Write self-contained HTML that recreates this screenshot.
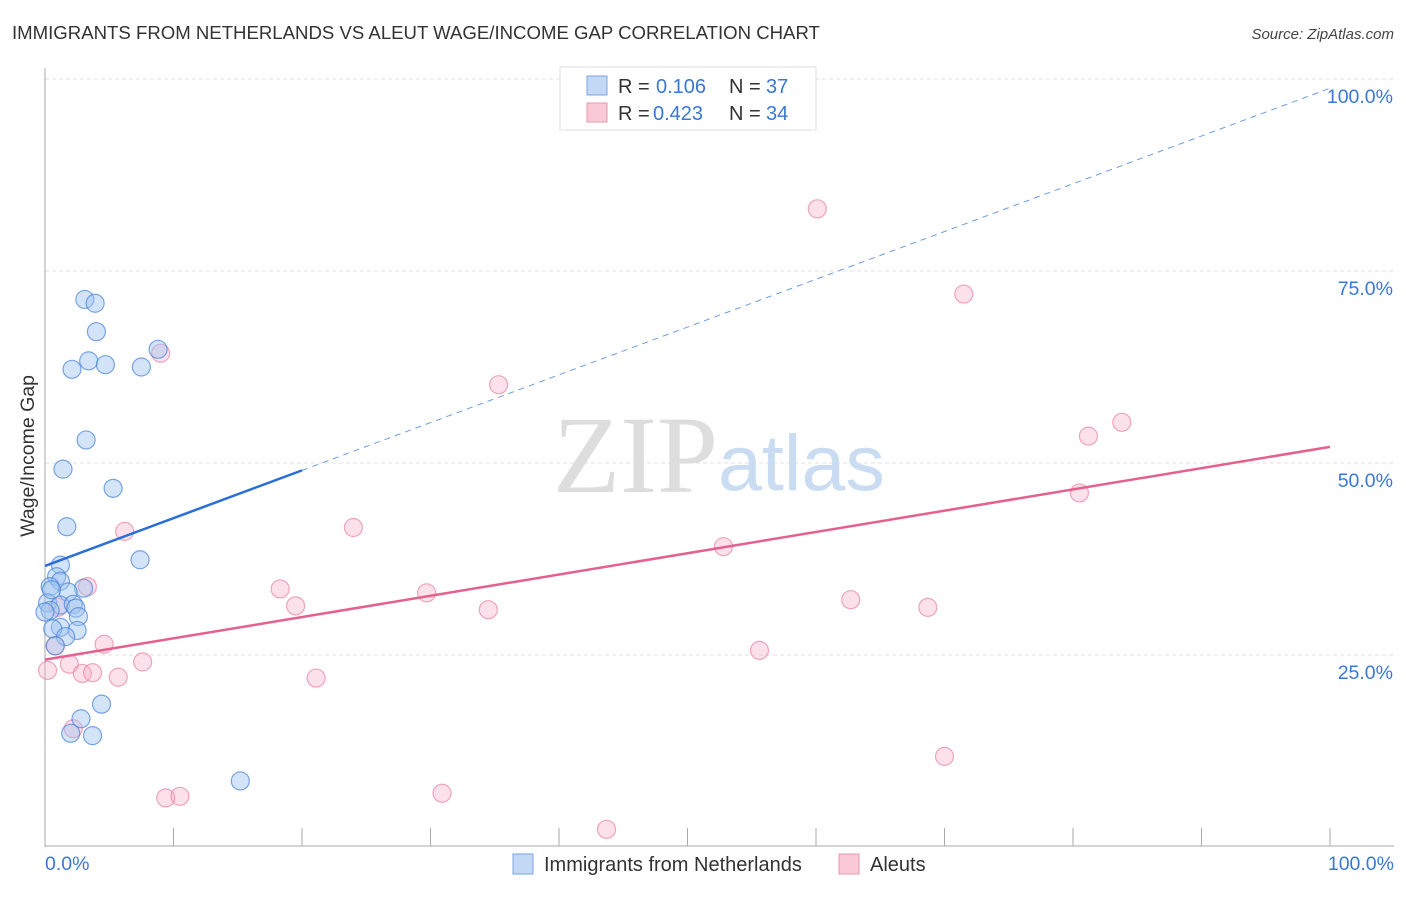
<!DOCTYPE html>
<html><head><meta charset="utf-8"><style>
body{margin:0;background:#fff;font-family:"Liberation Sans",sans-serif;}
</style></head><body>
<svg width="1406" height="892" xmlns="http://www.w3.org/2000/svg" font-family="Liberation Sans, sans-serif">
<text x="12" y="39" font-size="18.6" fill="#333">IMMIGRANTS FROM NETHERLANDS VS ALEUT WAGE/INCOME GAP CORRELATION CHART</text>
<text x="1394" y="39" font-size="15" fill="#444" font-style="italic" text-anchor="end">Source: ZipAtlas.com</text>
<g id="grid"></g>
<text x="553" y="492" font-size="110" fill="#ddd" font-family="Liberation Serif, serif">ZIP</text>
<text x="718" y="490" font-size="79" fill="#c9dcf2">atlas</text>
<text transform="translate(34,456) rotate(-90)" font-size="19.5" fill="#333" text-anchor="middle">Wage/Income Gap</text>
<g id="marks"></g>
<g>
<rect x="560" y="67" width="256" height="63" fill="#fff" stroke="#ddd"/>
<rect x="587" y="76" width="20" height="19" fill="#c2d8f5" stroke="#7aa6e0"/>
<rect x="587" y="103" width="20" height="19" fill="#f9c9d6" stroke="#e898b0"/>
<text x="618" y="93" font-size="20" fill="#333">R =</text>
<text x="656" y="93" font-size="20" fill="#3a78d4">0.106</text>
<text x="729" y="93" font-size="20" fill="#333">N =</text>
<text x="766" y="93" font-size="20" fill="#3a78d4">37</text>
<text x="618" y="120" font-size="20" fill="#333">R =</text>
<text x="653" y="120" font-size="20" fill="#3a78d4">0.423</text>
<text x="729" y="120" font-size="20" fill="#333">N =</text>
<text x="766" y="120" font-size="20" fill="#3a78d4">34</text>
</g>
<g>
<rect x="513" y="854" width="20" height="20" fill="#c2d8f5" stroke="#7aa6e0"/>
<text x="544" y="871" font-size="20" fill="#333">Immigrants from Netherlands</text>
<rect x="839" y="854" width="20" height="20" fill="#f9c9d6" stroke="#e898b0"/>
<text x="870" y="871" font-size="20" fill="#333">Aleuts</text>
</g>
</svg>
<script>
const blueX=[3.1,3.9,4.0,8.8,3.4,4.7,7.5,2.1,3.2,1.4,5.3,1.7,7.4,1.2,0.9,1.2,0.4,3.0,1.8,0.2,1.2,2.2,2.4,0.4,2.6,1.2,0.6,2.5,1.6,0.8,4.4,2.8,2.0,3.7,15.2,0.5,0.0];
const blueY=[71.3,70.8,67.1,64.8,63.3,62.8,62.5,62.2,53.0,49.2,46.7,41.7,37.4,36.7,35.2,34.6,33.9,33.7,33.2,31.8,31.5,31.6,31.1,30.8,30.0,28.6,28.4,28.2,27.4,26.2,18.6,16.7,14.8,14.5,8.6,33.5,30.6];
const pinkX=[60.1,71.5,9.0,35.3,83.8,81.2,80.5,24.0,6.2,52.8,3.3,18.3,29.7,19.5,62.7,34.5,68.7,4.6,55.6,0.8,7.6,1.9,0.2,2.9,3.7,5.7,21.1,2.2,70.0,9.4,10.5,30.9,43.7,1.0];
const pinkY=[83.1,72.0,64.3,60.2,55.3,53.5,46.1,41.6,41.1,39.1,33.9,33.6,33.1,31.4,32.2,30.9,31.2,26.4,25.6,26.2,24.1,23.8,23.0,22.6,22.7,22.1,22.0,15.4,11.8,6.4,6.6,7.0,2.3,31.2];
const trendBlue=[36.6,98.8];
const trendPink=[24.4,52.1];
const yTicks=[25,50,75,100];
const yTickLabels=["25.0%","50.0%","75.0%","100.0%"];
const xEdgeLabels=["0.0%","100.0%"];
const NS="http://www.w3.org/2000/svg";
const X=v=>45+v*12.85, Y=v=>847-v*7.68;
function mk(p,t,a){const e=document.createElementNS(NS,t);for(const k in a)e.setAttribute(k,a[k]);p.appendChild(e);return e;}
const g=document.getElementById('grid'), m=document.getElementById('marks');
yTicks.forEach((t,i)=>{
 const l=mk(g,'line',{x1:45,x2:1394,y1:Y(t),y2:Y(t),stroke:'#e2e2e2','stroke-dasharray':'4,3'});
 
 
 const tx=mk(g,'text',{x:1393,y:Y(t)+24,'font-size':19.5,fill:'#3a78d4','text-anchor':'end'});
 tx.textContent=yTickLabels[i];
 
 
});
const ax=mk(g,'line',{x1:45,x2:45,y1:68,y2:847,stroke:'#aaa'});


const bx=mk(g,'line',{x1:45,x2:1394,y1:846,y2:846,stroke:'#aaa'});


for(let i=0;i<=10;i++){const t=mk(g,'line',{x1:X(i*10),x2:X(i*10),y1:828,y2:846,stroke:'#aaa'});

}
[[X(0),'start'],[1394,'end']].forEach((p,i)=>{const t=mk(g,'text',{x:p[0],y:870,'font-size':19.5,fill:'#3a78d4','text-anchor':p[1]});t.textContent=xEdgeLabels[i];

});
pinkX.forEach((x,i)=>{const c=mk(m,'circle',{cx:X(x),cy:Y(pinkY[i]),r:9,fill:'rgba(246,170,195,0.35)',stroke:'rgba(232,130,165,0.7)','stroke-width':1.2});

});
blueX.forEach((x,i)=>{const c=mk(m,'circle',{cx:X(x),cy:Y(blueY[i]),r:9,fill:'rgba(160,195,240,0.45)',stroke:'rgba(70,130,215,0.7)','stroke-width':1.2});

});
const bv=x=>trendBlue[0]+(trendBlue[1]-trendBlue[0])*x/100;
const l1=mk(m,'line',{x1:X(0),y1:Y(bv(0)),x2:X(20),y2:Y(bv(20)),stroke:'#2a6fd6','stroke-width':2.5});


const l2=mk(m,'line',{x1:X(20),y1:Y(bv(20)),x2:X(100),y2:Y(bv(100)),stroke:'#6a9ee0','stroke-width':1,'stroke-dasharray':'6,5'});


const l3=mk(m,'line',{x1:X(0),y1:Y(trendPink[0]),x2:X(100),y2:Y(trendPink[1]),stroke:'#e5608e','stroke-width':2.5});


</script>
</body></html>
